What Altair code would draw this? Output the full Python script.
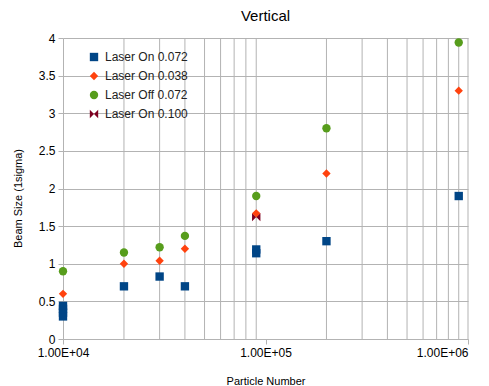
import altair as alt
import pandas as pd

# ---- data ----
series_names = ["Laser On 0.072", "Laser On 0.038", "Laser Off 0.072", "Laser On 0.100"]
series_colors = ["#004586", "#ff420e", "#579d1c", "#7e0021"]
series_shapes = ["square", "diamond", "circle", "M-1,-1L0,0L-1,1Z M1,-1L0,0L1,1Z"]

on072_x = [1e4, 1e4, 1e4, 1e4, 2e4, 3e4, 4e4, 9e4, 9e4, 2e5, 9e5]
on072_y = [0.30, 0.35, 0.40, 0.44, 0.70, 0.83, 0.70, 1.14, 1.19, 1.30, 1.90]

on038_x = [1e4, 2e4, 3e4, 4e4, 9e4, 2e5, 9e5]
on038_y = [0.60, 1.00, 1.04, 1.20, 1.67, 2.20, 3.30]

off072_x = [1e4, 2e4, 3e4, 4e4, 9e4, 2e5, 9e5]
off072_y = [0.90, 1.15, 1.22, 1.37, 1.90, 2.80, 3.94]

on100_x = [9e4]
on100_y = [1.62]

x_ticks = [1e4, 1e5, 1e6]
x_tick_labels = ["1.00E+04", "1.00E+05", "1.00E+06"]
y_ticks = [0, 0.5, 1, 1.5, 2, 2.5, 3, 3.5, 4]
x_grid = [2e4, 3e4, 4e4, 5e4, 6e4, 7e4, 8e4, 9e4,
          2e5, 3e5, 4e5, 5e5, 6e5, 7e5, 8e5, 9e5, 1e6]

rows = []
for name, xs, ys in [
    (series_names[3], on100_x, on100_y),
    (series_names[0], on072_x, on072_y),
    (series_names[1], on038_x, on038_y),
    (series_names[2], off072_x, off072_y),
]:
    for xv, yv in zip(xs, ys):
        rows.append({"x": xv, "y": yv, "series": name})
df = pd.DataFrame(rows)
grid_df = pd.DataFrame({"g": x_grid})

W, H = 405, 301
FONT = "Liberation Sans"
GRID = "#b3b3b3"

label_expr = " : ".join(
    f"datum.value == {v} ? '{l}'" for v, l in zip(x_ticks[:-1], x_tick_labels[:-1])
) + f" : '{x_tick_labels[-1]}'"

x_scale = alt.Scale(type="log", domain=[1e4, 1e6], nice=False)
y_scale = alt.Scale(domain=[0, 4], nice=False)

grid = alt.Chart(grid_df).mark_rule(color=GRID, strokeWidth=1).encode(
    x=alt.X("g:Q", scale=x_scale),
    y=alt.value(0),
    y2=alt.value(H),
)

points = alt.Chart(df).mark_point(filled=True, opacity=1).encode(
    x=alt.X("x:Q", scale=x_scale,
            axis=alt.Axis(values=x_ticks, labelExpr=label_expr, grid=False,
                          title="Particle Number", titleY=42, titleX=W / 2,
                          titleBaseline="middle", titleFontWeight="normal",
                          titleFontSize=11, labelFontSize=12, tickSize=5,
                          labelPadding=3, labelFlush=False,
                          labelAlign=alt.ExprRef(expr="datum.value >= 1000000 ? 'right' : 'center'"))),
    y=alt.Y("y:Q", scale=y_scale,
            axis=alt.Axis(values=y_ticks, format="~g", grid=True, gridColor=GRID,
                          title="Beam Size (1sigma)", titleX=-45, titleY=160,
                          titleAngle=-90, titleAlign="center", titleBaseline="middle",
                          titleFontWeight="normal", titleFontSize=11,
                          labelFontSize=12, tickSize=5, labelPadding=3)),
    color=alt.Color("series:N",
                    scale=alt.Scale(domain=series_names, range=series_colors),
                    legend=alt.Legend(title=None, orient="none", legendX=25, legendY=13,
                                      labelFontSize=12, labelFont=FONT, labelColor="#222",
                                      symbolSize=70, rowPadding=7, labelOffset=5,
                                      padding=0)),
    shape=alt.Shape("series:N",
                    scale=alt.Scale(domain=series_names, range=series_shapes)),
    size=alt.value(70),
)

chart = alt.layer(grid, points).properties(
    width=W, height=H,
    title=alt.TitleParams("Vertical", fontSize=15, fontWeight="normal", font=FONT,
                          color="#000", offset=8, anchor="middle"),
    padding={"left": 55, "top": 30, "right": 13, "bottom": 47},
    autosize=alt.AutoSizeParams(type="none"),
).configure_view(stroke=None).configure_axis(
    domainColor=GRID, tickColor=GRID, labelFont=FONT, titleFont=FONT,
    labelColor="#000", titleColor="#000",
)

chart.save("out.html", embed_options={"renderer": "svg", "actions": False})
